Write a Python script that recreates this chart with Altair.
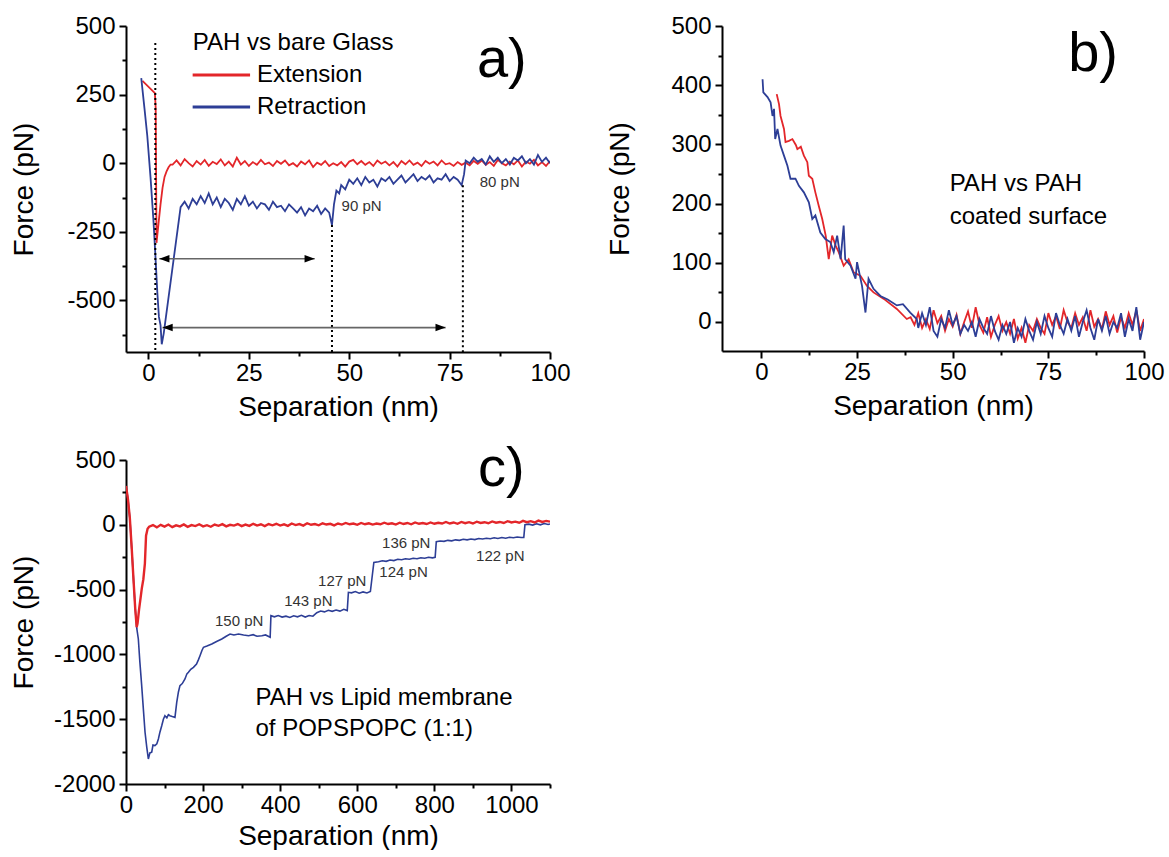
import altair as alt
import pandas as pd

FONT = "Liberation Sans"
RED = "#e3262a"
BLUE = "#2d3e96"

# ---------------- Panel a: PAH vs bare glass ----------------
a_ext_x = [-1.5, 1.6, 1.8, 2.0, 2.5, 3.0, 3.5, 4.0, 4.5, 5.0, 5.5,
           6, 7, 8, 9, 10, 11, 12, 13, 14, 15, 16, 17, 18, 19, 20, 21, 22, 23, 24, 25,
           26, 27, 28, 29, 30, 31, 32, 33, 34, 35, 36, 37, 38, 39, 40, 41, 42, 43, 44, 45,
           46, 47, 48, 49, 50, 51, 52, 53, 54, 55, 56, 57, 58, 59, 60, 61, 62, 63, 64, 65,
           66, 67, 68, 69, 70, 71, 72, 73, 74, 75, 76, 77, 78, 79, 80, 81, 82, 83, 84, 85,
           86, 87, 88, 89, 90, 91, 92, 93, 94, 95, 96, 97, 98, 99, 100]
a_ext_y = [300, 255, 200, -290, -220, -150, -90, -50, -30, -15, -5,
           -5, 10, -8, 15, 0, -12, 8, -5, 12, -10, 5, -3, 14, -8, 6, -12, 20, -5, 8, -10,
           4, -6, 12, -4, 2, -10, 8, -2, 10, -8, 0, -12, 6, -4, 10, -14, 2, -6, 8, -10,
           0, -8, 4, -12, 6, 12, -4, 8, -6, 4, -10, 10, -2, 6, -8, 4, -12, 8, -4, 10,
           -6, 2, -10, 8, -2, 6, -8, 10, -4, 0, -10, 4, -6, 2, -8, 8, -2, 10, -6, 4,
           -10, 12, 0, -8, 6, -4, 10, -12, 6, -2, 12, -8, 4, -10, 8]
a_ret_x = [-1.8, -1.0, -0.3, 0.5, 1.2, 1.7, 2.2, 2.6, 3.0, 3.3, 3.8,
           8.0, 8.5, 9, 10, 11, 12, 13, 14, 15, 16, 17, 18, 19, 20, 21, 22, 23, 24, 25,
           26, 27, 28, 29, 30, 31, 32, 33, 34, 35, 36, 37, 38, 39, 40, 41, 42, 43, 44, 45,
           45.7, 46.2, 46.8, 47.5, 48, 49, 50, 51, 52, 53, 54, 55, 56, 57, 58, 59, 60,
           61, 62, 63, 64, 65, 66, 67, 68, 69, 70, 71, 72, 73, 74, 75, 76, 77, 78,
           78.6, 79, 80, 81, 82, 83, 84, 85, 86, 87, 88, 89, 90, 91, 92, 93, 94, 95,
           96, 97, 98, 99, 100]
a_ret_y = [310, 200, 100, -50, -200, -330, -470, -560, -590, -660, -620,
           -160, -150, -140, -165, -130, -150, -120, -145, -110, -150, -125, -160, -130, -145, -170, -130, -150, -120, -155,
           -140, -165, -145, -150, -170, -140, -160, -155, -175, -150, -165, -180, -160, -190, -165, -175, -155, -185, -165, -180,
           -225, -150, -100, -110, -80, -95, -60, -75, -55, -80, -50, -70, -60, -85, -55, -65, -50,
           -75, -60, -45, -70, -55, -40, -65, -50, -60, -45, -70, -55, -60, -40, -65, -50, -60, -80,
           -40, 10, 0, 20, 5, 15, -5, 25, 5, 20, 0, 15, -5, 20, 10, 25, 0, 15,
           -5, 30, 5, 20, 0]
a_vline_x = [1.7, 45.7, 78.3]
a_vline_top = [438, -225, -80]
a_arrow_left = [2.7, 3.5]
a_arrow_right = [41.4, 74.0]
a_arrow_y = [-348, -599]
a_note_text = ["90 pN", "80 pN"]
a_note_x = [48.1, 82.5]
a_note_y = [-156, -67]
# in-plot key of panel a (title + one row per series)
a_key_title = "PAH vs bare Glass"
a_key_title_y = 438
a_key_line_x = [11.0, 25.3]
a_key_text_x = 27.0
a_key_row_y = [321, 205]

# ---------------- Panel b: PAH vs PAH coated surface ----------------
b_ext_x = [4.0, 4.6, 5.0, 5.9, 6.3, 7.2, 8.1, 9.0, 9.4, 10.3, 11.1, 12.0, 12.4, 13.3, 14.1, 15.0,
           15.9, 16.8, 17.6, 18.5, 19.4, 20.2, 21.5, 22.8, 24.1, 25.9, 27.6, 29.3, 32.0, 35.4, 38.0,
           39, 40, 41, 42, 43, 44, 45, 46, 47, 48, 49, 50, 51, 52, 53, 54, 55, 56, 57, 58, 59, 60,
           61, 62, 63, 64, 65, 66, 67, 68, 69, 70, 71, 72, 73, 74, 75, 76, 77, 78, 79, 80,
           81, 82, 83, 84, 85, 86, 87, 88, 89, 90, 91, 92, 93, 94, 95, 96, 97, 98, 99, 100]
b_ext_y = [385, 368, 348, 326, 304, 306, 309, 299, 292, 296, 281, 270, 247, 242, 219, 196,
           174, 146, 106, 146, 129, 118, 95, 106, 84, 78, 61, 50, 39, 22, 5,
           8, -5, 15, -10, 5, -12, 20, -2, 10, -15, 5, -8, 12, -20, 0, 18, -10, 25, -5, -18, 8, -25,
           -5, 10, -15, 0, -20, 5, -28, -10, -35, -5, -15, 5, -10, -20, 15, -5, 10, -12, 20, 0,
           -10, 15, -5, 8, -15, 20, -8, 5, -12, 18, -5, 10, -18, 8, -10, 15, -5, 20, -15, 5]
b_ret_x = [0.3, 0.5, 1.6, 2.4, 2.9, 3.3, 3.6, 4.2, 5.0, 5.9, 6.8, 7.6, 8.9, 9.8, 11.1, 12.4, 13.3,
           14.1, 15.4, 16.7, 18.0, 18.9, 19.8, 20.7, 21.5, 21.9, 23.3, 24.6, 25.0, 26.3, 27.2, 28.0,
           29.3, 31.1, 33.0, 35.4, 37.0, 38.9, 40.6,
           41, 42, 43, 44, 45, 46, 47, 48, 49, 50, 51, 52, 53, 54, 55, 56, 57, 58, 59, 60,
           61, 62, 63, 64, 65, 66, 67, 68, 69, 70, 71, 72, 73, 74, 75, 76, 77, 78, 79, 80,
           81, 82, 83, 84, 85, 86, 87, 88, 89, 90, 91, 92, 93, 94, 95, 96, 97, 98, 99, 100]
b_ret_y = [410, 388, 380, 371, 348, 360, 309, 326, 298, 281, 264, 242, 242, 230, 219, 202, 174,
           180, 151, 140, 135, 118, 146, 106, 163, 106, 95, 73, 101, 61, 16, 73,
           56, 44, 38, 28, 30, 16, 5,
           -10, 15, -5, 25, -15, -25, 5, -10, 20, -5, 10, -20, -5, -15, 0, -25, 5, -10, -20, 10,
           -15, -30, -5, -20, 0, -35, -10, -25, 5, -15, -30, 0, -20, 10, -10, -25, 15, -5, -20, 5,
           -15, 10, -25, 0, 20, -10, -30, 5, -15, 10, -20, 0, -10, 15, -25, 5, -15, 25, -30, 0]
b_note_text = ["PAH vs PAH", "coated surface"]
b_note_x = [49.2, 49.2]
b_note_y = [233, 177]

# ---------------- Panel c: PAH vs lipid membrane ----------------
c_ext_x = [0, 5, 10, 15, 20, 24, 27.7, 30, 34, 38, 41, 45, 49, 52, 56,
           60, 70, 80, 90, 100, 110, 120, 130, 140, 150, 160, 170, 180, 190, 200, 210, 220, 230, 240,
           250, 260, 270, 280, 290, 300, 310, 320, 330, 340, 350, 360, 370, 380, 390, 400, 410, 420,
           430, 440, 450, 460, 470, 480, 490, 500, 510, 520, 530, 540, 550, 560, 570, 580, 590, 600,
           610, 620, 630, 640, 650, 660, 670, 680, 690, 700, 710, 720, 730, 740, 750, 760, 770, 780,
           790, 800, 810, 820, 830, 840, 850, 860, 870, 880, 890, 900, 910, 920, 930, 940, 950, 960,
           970, 980, 990, 1000, 1010, 1020, 1030, 1040, 1050, 1060, 1070, 1080, 1090, 1100]
c_ext_y = [300, 200, 50, -190, -450, -650, -790, -760, -650, -560, -490, -420, -300, -84, -30,
           -15, -2, -20, 0, -14, 2, -18, -4, -12, 3, -16, -2, -10, 4, -12, -3, -15, 2, -8,
           5, -12, 0, -6, 6, -10, 2, -8, 8, -6, 4, -10, 6, -4, 8, -6, 4, -8,
           10, -2, 6, -6, 12, 0, 6, -4, 12, 2, 8, -4, 10, 2, 14, 4, 10, 0,
           14, 4, 12, 2, 10, 4, 16, 6, 12, 2, 16, 6, 14, 4, 18, 8, 14, 6,
           18, 8, 16, 10, 22, 10, 18, 8, 22, 12, 20, 10, 24, 14, 20, 12, 26, 16,
           22, 14, 28, 18, 24, 16, 30, 20, 28, 18, 32, 22, 30, 24]
c_ret_x = [0, 5, 10, 15, 20, 24, 28, 32, 36, 40.7, 45, 49.4, 54, 58, 62, 66.7, 70, 75, 80, 84, 88,
           92.7, 97, 101, 106, 110, 114, 120, 127, 131.6, 136, 140, 146, 153, 158, 162, 168, 175,
           183, 188, 192, 197, 201, 210, 222.6, 235, 248.5, 260, 270, 280, 292, 305, 318, 330, 340,
           352.5, 362, 374, 376, 385, 395, 405, 415, 425, 435, 445, 455, 465, 475, 485, 495, 505,
           515, 525, 535, 545, 555, 565, 574, 577, 585, 595, 605, 615, 625, 634, 643, 655, 665, 675,
           685, 695, 705, 715, 725, 735, 745, 755, 765, 775, 785, 795, 802, 805, 815, 825, 835, 845,
           855, 865, 875, 885, 895, 905, 915, 925, 935, 945, 955, 965, 975, 985, 995, 1005, 1015,
           1025, 1032, 1035, 1045, 1055, 1065, 1075, 1085, 1095, 1100]
c_ret_y = [300, 200, 50, -190, -450, -650, -800, -881, -1060, -1241, -1420, -1601, -1720, -1807,
           -1760, -1755, -1700, -1704, -1690, -1653, -1600, -1550, -1500, -1473, -1490, -1465, -1473,
           -1480, -1486, -1370, -1290, -1241, -1225, -1190, -1150, -1138, -1115, -1100, -1074, -1040,
           -1010, -970, -945, -935, -920, -900, -881, -860, -843, -850, -843, -850, -856, -848, -860,
           -856, -850, -868, -701, -710, -700, -712, -705, -715, -702, -710, -698, -712, -700, -705,
           -678, -665, -672, -660, -668, -658, -666, -652, -662, -521, -525, -515, -528, -518, -526,
           -515, -290, -285, -278, -282, -272, -276, -266, -270, -262, -266, -258, -262, -254, -258,
           -250, -255, -251, -130, -125, -128, -120, -124, -116, -120, -112, -116, -110, -114, -106,
           -110, -104, -108, -100, -106, -98, -104, -96, -100, -94, -98, -97, 0, 5, -2, 8, 0, 10, 3, 6]
c_step_text = ["150 pN", "143 pN", "127 pN", "124 pN", "136 pN", "122 pN"]
c_step_x = [293.5, 473, 561, 720, 727, 971]
c_step_y = [-740, -585, -436, -367, -140, -243]
c_note_text = ["PAH vs Lipid membrane", "of POPSPOPC (1:1)"]
c_note_x = [336, 336]
c_note_y = [-1339, -1576]

panel_letters = ["a)", "b)", "c)"]
letter_x = [88, 86.7, 974]
letter_y = [314, 424, 302]

SERIES = ["Extension", "Retraction"]
A_YMIN = -688
COLOR_SCALE = alt.Scale(domain=SERIES, range=[RED, BLUE])


def trace_df(xs, ys, name):
    return pd.DataFrame({"x": xs, "y": ys, "s": name, "i": list(range(len(xs)))})


def make_axis(values, mod, title, title_pos, orient):
    kw = dict(
        values=values,
        title=title,
        labelExpr=f"datum.value % {mod} === 0 ? '' + datum.value : ''",
        tickSize={"condition": {"test": f"datum.value % {mod} !== 0", "value": 4}, "value": 7},
        tickWidth=2, tickColor="black", domainColor="black", domainWidth=2,
        labelFont=FONT, labelFontSize=24, labelColor="black",
        titleFont=FONT, titleFontSize=28, titleFontWeight="normal", titleColor="black",
        labelOverlap=False, labelFlush=False, grid=False,
    )
    if orient == "x":
        kw.update(titleY=title_pos, labelPadding=2)
    else:
        kw.update(titleX=title_pos, labelPadding=4)
    return alt.Axis(**kw)


class Panel:
    def __init__(self, xdom, ydom, xvals, xmod, yvals, ymod, xt, yt):
        self.xs = alt.Scale(domain=xdom, nice=False, zero=False)
        self.ys = alt.Scale(domain=ydom, nice=False, zero=False)
        self.xax = make_axis(xvals, xmod, "Separation (nm)", xt, "x")
        self.yax = make_axis(yvals, ymod, "Force (pN)", yt, "y")

    def X(self, field="x"):
        return alt.X(f"{field}:Q", scale=self.xs, axis=self.xax)

    def Y(self, field="y"):
        return alt.Y(f"{field}:Q", scale=self.ys, axis=self.yax)

    def trace(self, df, width):
        return alt.Chart(df).mark_line(strokeWidth=width, clip=True).encode(
            x=self.X(), y=self.Y(),
            color=alt.Color("s:N", scale=COLOR_SCALE, legend=None),
            order="i:Q")

    def text(self, texts, xs_, ys_, size, align, color, baseline="middle"):
        df = pd.DataFrame({"x": xs_, "y": ys_, "t": texts})
        return alt.Chart(df).mark_text(font=FONT, fontSize=size, align=align, baseline=baseline,
                                       color=color).encode(x=self.X(), y=self.Y(), text="t:N")

    def letter(self, idx):
        return self.text([panel_letters[idx]], [letter_x[idx]], [letter_y[idx]], 56, "center",
                         "black", "alphabetic")


# ----- panel a -----
pa = Panel([-5.6, 100], [A_YMIN, 500],
           [0, 12.5, 25, 37.5, 50, 62.5, 75, 87.5, 100], 25,
           [-625, -500, -375, -250, -125, 0, 125, 250, 375, 500], 250, 41, -88)

vl_rows = []
for k, (vx, vt) in enumerate(zip(a_vline_x, a_vline_top)):
    vl_rows.append({"x": vx, "y": vt, "g": k})
    vl_rows.append({"x": vx, "y": A_YMIN, "g": k})
a_vlines = alt.Chart(pd.DataFrame(vl_rows)).mark_line(color="black", strokeWidth=2, strokeDash=[2, 3]).encode(
    x=pa.X(), y=pa.Y(), detail="g:N")

sh_rows = []
for k, (xl, xr, yy) in enumerate(zip(a_arrow_left, a_arrow_right, a_arrow_y)):
    sh_rows.append({"x": xl, "y": yy, "g": k})
    sh_rows.append({"x": xr, "y": yy, "g": k})
a_shafts = alt.Chart(pd.DataFrame(sh_rows)).mark_line(color="#666666", strokeWidth=1.6).encode(
    x=pa.X(), y=pa.Y(), detail="g:N")

ar_df = pd.DataFrame({"xl": a_arrow_left, "xr": a_arrow_right, "y": a_arrow_y})
a_headl = alt.Chart(ar_df).mark_point(shape="M0,0 L1.6,-0.6 L1.6,0.6 Z", filled=True, opacity=1,
                                      color="black", size=160).encode(x=pa.X("xl"), y=pa.Y())
a_headr = alt.Chart(ar_df).mark_point(shape="M0,0 L-1.6,-0.6 L-1.6,0.6 Z", filled=True, opacity=1,
                                      color="black", size=160).encode(x=pa.X("xr"), y=pa.Y())

key_rows = []
for s, ry in zip(SERIES, a_key_row_y):
    for kx in a_key_line_x:
        key_rows.append({"x": kx, "y": ry, "s": s})
a_key_lines = alt.Chart(pd.DataFrame(key_rows)).mark_line(strokeWidth=3).encode(
    x=pa.X(), y=pa.Y(), color=alt.Color("s:N", scale=COLOR_SCALE, legend=None), detail="s:N")
a_key_labels = pa.text(SERIES, [a_key_text_x] * 2, a_key_row_y, 24, "left", "black")
a_key_head = pa.text([a_key_title], [a_key_line_x[0]], [a_key_title_y], 24, "left", "black")

panel_a = alt.layer(
    pa.trace(trace_df(a_ext_x, a_ext_y, "Extension"), 1.8),
    pa.trace(trace_df(a_ret_x, a_ret_y, "Retraction"), 1.8),
    a_vlines, a_shafts, a_headl, a_headr,
    pa.text(a_note_text, a_note_x, a_note_y, 15, "left", "#333333"),
    a_key_lines, a_key_labels, a_key_head, pa.letter(0),
).properties(width=424, height=326)

# ----- panel b -----
pb = Panel([-10.3, 100], [-49, 500],
           [0, 12.5, 25, 37.5, 50, 62.5, 75, 87.5, 100], 25,
           [0, 50, 100, 150, 200, 250, 300, 350, 400, 450, 500], 100, 41, -88)
panel_b = alt.layer(
    pb.trace(trace_df(b_ext_x, b_ext_y, "Extension"), 1.8),
    pb.trace(trace_df(b_ret_x, b_ret_y, "Retraction"), 1.8),
    pb.text(b_note_text, b_note_x, b_note_y, 24, "left", "black"),
    pb.letter(1),
).properties(width=422, height=325)

# ----- panel c -----
pc = Panel([0, 1100], [-2000, 500],
           [0, 100, 200, 300, 400, 500, 600, 700, 800, 900, 1000, 1100], 200,
           [-2000, -1750, -1500, -1250, -1000, -750, -500, -250, 0, 250, 500], 500, 38, -88)
panel_c = alt.layer(
    pc.trace(trace_df(c_ret_x, c_ret_y, "Retraction"), 1.6),
    pc.trace(trace_df(c_ext_x, c_ext_y, "Extension"), 2.4),
    pc.text(c_step_text, c_step_x, c_step_y, 15, "center", "#333333"),
    pc.text(c_note_text, c_note_x, c_note_y, 24, "left", "black"),
    pc.letter(2),
).properties(width=424, height=324)

top = alt.hconcat(panel_a, panel_b, spacing=35)
chart = alt.vconcat(top, panel_c, spacing=19).properties(
    padding={"left": 10, "top": 14, "right": 0, "bottom": 0},
    background="white",
).configure_view(stroke=None)

chart.save("out.html", embed_options={"renderer": "svg", "actions": False})
